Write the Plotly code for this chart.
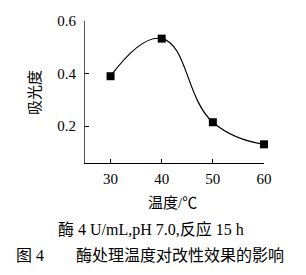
import plotly.graph_objects as go

temps = [30, 40, 50, 60]
absorb = [0.39, 0.533, 0.215, 0.131]
xticks = [30, 40, 50, 60]
yticks = [0.2, 0.4, 0.6]

W, H = 306, 275
L, R, T, B = 85, 42, 21, 112
pw, ph = W - L - R, H - T - B

def px(x):
    return (x - L) / pw

def py(y):
    return (H - B - y) / ph

serif = "Liberation Serif, Times New Roman, serif"
cjk = "Liberation Serif, Noto Sans CJK SC, serif"

fig = go.Figure()
fig.add_trace(go.Scatter(
    x=temps, y=absorb, mode="lines+markers",
    line=dict(color="black", width=1.2, shape="spline", smoothing=1.3),
    marker=dict(symbol="square", size=8, color="black"),
    showlegend=False, cliponaxis=False,
))

def ann(text, x, y, size=15, angle=0):
    return dict(text=text, x=px(x), y=py(y), xref="paper", yref="paper",
                xanchor="center", yanchor="middle", textangle=angle,
                showarrow=False, font=dict(family=cjk, size=size))

fig.update_layout(
    width=W, height=H,
    margin=dict(l=L, r=R, t=T, b=B),
    paper_bgcolor="white", plot_bgcolor="white",
    font=dict(family=serif, size=14, color="black"),
    xaxis=dict(range=[25, 60], tickvals=xticks, ticks="inside", ticklen=4,
               tickcolor="black", showline=True, linecolor="black", linewidth=1,
               showgrid=False, zeroline=False, ticklabelstandoff=2,
               tickfont=dict(family=serif, size=15)),
    yaxis=dict(range=[0.06, 0.6], tickvals=yticks, ticktext=["0.2", "0.4", "0.6"],
               ticks="inside", ticklen=4, tickcolor="black", showline=True,
               linecolor="#555", linewidth=1, showgrid=False, zeroline=False,
               ticklabelstandoff=5, tickfont=dict(family=serif, size=15)),
    annotations=[
        ann("吸光度", 35, 93, angle=-90),
        ann("温度/℃", 172, 203),
        ann("酶 4 U/mL,pH 7.0,反应 15 h", 151, 229, size=16),
        ann("图 4　　酶处理温度对改性效果的影响", 150, 255, size=16),
    ],
)

fig.write_html("out.html")
